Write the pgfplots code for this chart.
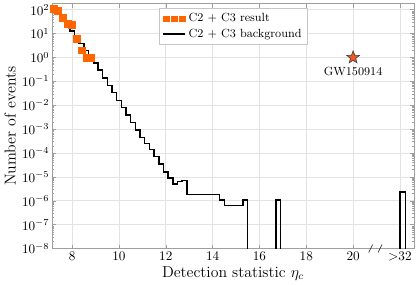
\documentclass[border=0pt]{standalone}
\usepackage{pgfplots}
\pgfplotsset{compat=1.18}
\definecolor{resorange}{RGB}{255,102,0}
\definecolor{starorange}{RGB}{240,90,30}
\pgfdeclareplotmark{fstar}{%
  \pgfpathmoveto{\pgfqpointpolar{90}{\pgfplotmarksize}}%
  \pgfpathlineto{\pgfqpointpolar{126}{0.42\pgfplotmarksize}}%
  \pgfpathlineto{\pgfqpointpolar{162}{\pgfplotmarksize}}%
  \pgfpathlineto{\pgfqpointpolar{198}{0.42\pgfplotmarksize}}%
  \pgfpathlineto{\pgfqpointpolar{234}{\pgfplotmarksize}}%
  \pgfpathlineto{\pgfqpointpolar{270}{0.42\pgfplotmarksize}}%
  \pgfpathlineto{\pgfqpointpolar{306}{\pgfplotmarksize}}%
  \pgfpathlineto{\pgfqpointpolar{342}{0.42\pgfplotmarksize}}%
  \pgfpathlineto{\pgfqpointpolar{18}{\pgfplotmarksize}}%
  \pgfpathlineto{\pgfqpointpolar{54}{0.42\pgfplotmarksize}}%
  \pgfpathclose
  \pgfusepathqfillstroke}
\pgfplotstableread{
x y
7.1 112
7.3 71
7.5 40
7.7 22
7.9 13
8.1 7.1
8.3 3.8
8.5 2.0
8.7 1.05
8.9 0.60
9.1 0.295
9.3 0.141
9.5 0.069
9.7 0.034
9.9 0.0162
10.1 0.0079
10.3 0.0039
10.5 0.00186
10.7 0.00091
10.9 0.00045
11.1 0.00025
11.3 0.000141
11.5 0.000071
11.7 0.000035
11.9 0.0000158
12.1 0.0000089
12.3 0.0000050
12.5 0.0000063
12.7 0.0000071
12.9 0.0000018
14.3 0.0000011
14.5 0.00000063
15.3 0.0000011
15.5 1e-10
16.7 0.0000011
16.9 1e-10
22.0 0.0000023
22.25 1e-10
}\bgdata
\pgfplotstableread{
x y
7.2 107
7.4 88
7.6 46
7.8 26
8.0 23
8.2 6
8.4 2
8.6 1
8.8 1
}\resdata
\begin{document}
\begin{tikzpicture}
\begin{axis}[
  scale only axis, width=275pt, height=186pt,
  ymode=log, xmin=7.14, xmax=22.6, ymin=1e-8, ymax=178,
  xtick={8,10,12,14,16,18,20,22},
  xticklabels={8,10,12,14,16,18,20,$>$32},
  ytick={1e-8,1e-7,1e-6,1e-5,1e-4,1e-3,1e-2,1e-1,1,10,100},
  grid=major, major grid style={gray!22, line width=0.5pt},
  axis line style={gray!75},
  every tick/.style={gray!75},
  tick align=inside,
  major tick length=3pt, minor tick length=1.5pt,
  xlabel={Detection statistic $\eta_c$},
  ylabel={Number of events},
  label style={font=\large},
  xlabel style={yshift=3pt},
  ylabel style={yshift=-2pt},
  yticklabel style={xshift=1.5pt},
  xticklabel style={yshift=1pt},
  legend style={at={(0.296,0.983)}, anchor=north west, font=\small,
    draw=gray!45, inner sep=2pt, row sep=0pt, cells={anchor=west}},
  legend cell align=left,
  clip mode=individual,
]
\addlegendimage{legend image code/.code={
  \fill[resorange] (0.02cm,-0.075cm) rectangle (0.17cm,0.075cm);
  \fill[resorange] (0.23cm,-0.075cm) rectangle (0.38cm,0.075cm);
  \fill[resorange] (0.44cm,-0.075cm) rectangle (0.59cm,0.075cm);
}}
\addlegendentry{C2 + C3 result}
\addlegendimage{black, line width=1.1pt}
\addlegendentry{C2 + C3 background}
\addplot[const plot, black, line width=1.1pt, forget plot] table[x=x,y=y] {\bgdata};
\addplot[only marks, mark=square*, mark size=2.6pt, color=resorange, forget plot] table[x=x,y=y] {\resdata};
\addplot[only marks, mark=fstar, mark size=5pt, mark options={fill=starorange, draw=black!75, line width=0.5pt}, forget plot] coordinates {(20,1)};
\node[font=\small, anchor=north] at (axis cs:20,0.6) {GW150914};
\draw[black!80, line width=0.5pt] ([xshift=-1.5pt,yshift=-3pt]axis cs:20.75,1e-8) -- ++(3pt,6pt);
\draw[black!80, line width=0.5pt] ([xshift=-1.5pt,yshift=-3pt]axis cs:21.15,1e-8) -- ++(3pt,6pt);
\end{axis}
\end{tikzpicture}
\end{document}
